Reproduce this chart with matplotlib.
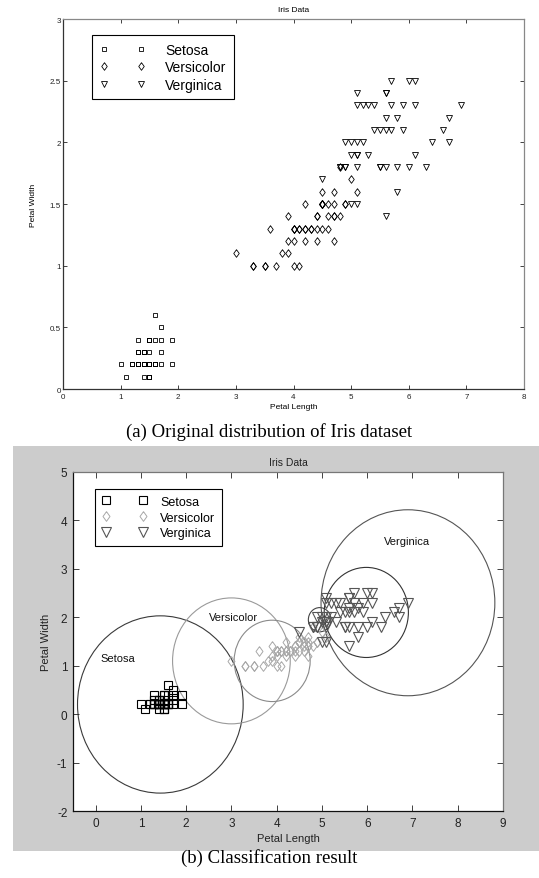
import numpy as np
import matplotlib
matplotlib.use("Agg")
import matplotlib.pyplot as plt
from matplotlib.patches import Rectangle, Circle
from matplotlib.ticker import FormatStrFormatter

plt.rcParams['font.family'] = ['Liberation Sans', 'DejaVu Sans']
plt.rcParams['axes.unicode_minus'] = False

# Iris petal measurements (length, width) per class
setosa_len = [1.4, 1.4, 1.3, 1.5, 1.4, 1.7, 1.4, 1.5, 1.4, 1.5, 1.5, 1.6, 1.4, 1.1, 1.2, 1.5, 1.3,
              1.4, 1.7, 1.5, 1.7, 1.5, 1.0, 1.7, 1.9, 1.6, 1.6, 1.5, 1.4, 1.6, 1.6, 1.5, 1.5, 1.4,
              1.5, 1.2, 1.3, 1.5, 1.3, 1.5, 1.3, 1.3, 1.3, 1.6, 1.9, 1.4, 1.6, 1.4, 1.5, 1.4]
setosa_wid = [0.2, 0.2, 0.2, 0.2, 0.2, 0.4, 0.3, 0.2, 0.2, 0.1, 0.2, 0.2, 0.1, 0.1, 0.2, 0.4, 0.4,
              0.3, 0.3, 0.3, 0.2, 0.4, 0.2, 0.5, 0.2, 0.2, 0.4, 0.2, 0.2, 0.2, 0.2, 0.4, 0.1, 0.2,
              0.2, 0.2, 0.2, 0.1, 0.2, 0.2, 0.3, 0.3, 0.2, 0.6, 0.4, 0.3, 0.2, 0.2, 0.2, 0.2]
versi_len = [4.7, 4.5, 4.9, 4.0, 4.6, 4.5, 4.7, 3.3, 4.6, 3.9, 3.5, 4.2, 4.0, 4.7, 3.6, 4.4, 4.5,
             4.1, 4.5, 3.9, 4.8, 4.0, 4.9, 4.7, 4.3, 4.4, 4.8, 5.0, 4.5, 3.5, 3.8, 3.7, 3.9, 5.1,
             4.5, 4.5, 4.7, 4.4, 4.1, 4.0, 4.4, 4.6, 4.0, 3.3, 4.2, 4.2, 4.2, 4.3, 3.0, 4.1]
versi_wid = [1.4, 1.5, 1.5, 1.3, 1.5, 1.3, 1.6, 1.0, 1.3, 1.4, 1.0, 1.5, 1.0, 1.4, 1.3, 1.4, 1.5,
             1.0, 1.5, 1.1, 1.8, 1.3, 1.5, 1.2, 1.3, 1.4, 1.4, 1.7, 1.5, 1.0, 1.1, 1.0, 1.2, 1.6,
             1.5, 1.6, 1.5, 1.3, 1.3, 1.3, 1.2, 1.4, 1.2, 1.0, 1.3, 1.2, 1.3, 1.3, 1.1, 1.3]
vergi_len = [6.0, 5.1, 5.9, 5.6, 5.8, 6.6, 4.5, 6.3, 5.8, 6.1, 5.1, 5.3, 5.5, 5.0, 5.1, 5.3, 5.5,
             6.7, 6.9, 5.0, 5.7, 4.9, 6.7, 4.9, 5.7, 6.0, 4.8, 4.9, 5.6, 5.8, 6.1, 6.4, 5.6, 5.1,
             5.6, 6.1, 5.6, 5.5, 4.8, 5.4, 5.6, 5.1, 5.1, 5.9, 5.7, 5.2, 5.0, 5.2, 5.4, 5.1]
vergi_wid = [2.5, 1.9, 2.1, 1.8, 2.2, 2.1, 1.7, 1.8, 1.8, 2.5, 2.0, 1.9, 2.1, 2.0, 2.4, 2.3, 1.8,
             2.2, 2.3, 1.5, 2.3, 2.0, 2.0, 1.8, 2.1, 1.8, 1.8, 1.8, 2.1, 1.6, 1.9, 2.0, 2.2, 1.5,
             1.4, 2.3, 2.4, 1.8, 1.8, 2.1, 2.4, 2.3, 1.9, 2.3, 2.5, 2.3, 1.9, 2.0, 2.3, 1.8]

class_names = ["Setosa", "Versicolor", "Verginica"]

# cluster circles found by the classifier: centre x, centre y, radius
circle_x = [1.43, 3.0, 3.9, 4.95, 5.98, 6.9]
circle_y = [0.2, 1.1, 1.1, 1.95, 2.1, 2.3]
circle_r = [1.83, 1.3, 0.84, 0.25, 0.93, 1.92]
circle_colors = ["#3a3a3a", "#9a9a9a", "#8a8a8a", "#444444", "#333333", "#555555"]

# class name labels placed inside the big circles
label_x = [0.1, 2.5, 6.37]
label_y = [1.15, 2.0, 3.58]

# MATLAB-like diamond, a bit narrower than it is tall
diamond = [(0, 1), (0.72, 0), (0, -1), (-0.72, 0), (0, 1)]

fig = plt.figure(figsize=(5.39, 8.79), dpi=100)

# grey figure background of the lower plot
fig.patches.append(Rectangle((0.0241, 0.0307), 0.9759, 0.4608, transform=fig.transFigure,
                             facecolor="#cccccc", edgecolor="none", zorder=-5))


def style_axes(ax, light, dark):
    for side in ["top", "right"]:
        ax.spines[side].set_color(light)
    for side in ["left", "bottom"]:
        ax.spines[side].set_color(dark)
    for sp in ax.spines.values():
        sp.set_linewidth(0.9)


# ---- (a) original distribution ----
ax1 = fig.add_axes([0.1169, 0.5563, 0.8553, 0.4209])
h1, = ax1.plot(setosa_len, setosa_wid, "s", ms=3.2, mfc="none", mec="black", mew=0.6)
h2, = ax1.plot(versi_len, versi_wid, marker=diamond, ls="none", ms=5.5, mfc="none",
               mec="black", mew=0.6)
h3, = ax1.plot(vergi_len, vergi_wid, "v", ms=4.5, mfc="none", mec="black", mew=0.6)
ax1.set_xlim(0, 8)
ax1.set_ylim(0, 3)
ax1.set_xticks(np.arange(0, 9, 1))
ax1.set_yticks(np.arange(0, 3.01, 0.5))
ax1.yaxis.set_major_formatter(FormatStrFormatter("%g"))
ax1.tick_params(direction="in", top=True, right=True, length=3, width=0.6,
                labelsize=5.8, colors="#222222")
ax1.tick_params(axis="y", pad=1.5)
ax1.tick_params(axis="x", pad=3)
ax1.set_title("Iris Data", fontsize=6, pad=5.5)
ax1.set_xlabel("Petal Length", fontsize=6, labelpad=2)
ax1.set_ylabel("Petal Width", fontsize=6, labelpad=9)
style_axes(ax1, "#888888", "#333333")
leg1 = ax1.legend([h1, h2, h3], class_names, loc="upper left", bbox_to_anchor=(0.063, 0.957),
                  borderaxespad=0, numpoints=2, handlelength=3.3, handletextpad=1.4,
                  borderpad=0.55, labelspacing=0.26, fontsize=10, fancybox=False,
                  framealpha=1)
leg1.get_frame().set_edgecolor("black")
leg1.get_frame().set_linewidth(0.8)

fig.text(0.5, 1 - 432 / 879, "(a) Original distribution of Iris dataset",
         family=["Liberation Serif", "DejaVu Serif"], fontsize=13.5, ha="center", va="center")

# ---- (b) classification result ----
ax2 = fig.add_axes([0.1354, 0.0762, 0.7978, 0.3857])
ax2.set_facecolor("white")
for cx, cy, r, col in zip(circle_x, circle_y, circle_r, circle_colors):
    ax2.add_patch(Circle((cx, cy), r, fill=False, edgecolor=col, linewidth=0.8))
g1, = ax2.plot(setosa_len, setosa_wid, "s", ms=5.8, mfc="none", mec="black", mew=0.8)
g2, = ax2.plot(versi_len, versi_wid, marker=diamond, ls="none", ms=7, mfc="none",
               mec="#a8a8a8", mew=0.7)
g3, = ax2.plot(vergi_len, vergi_wid, "v", ms=7, mfc="none", mec="#555555", mew=0.8)
for name, lx, ly in zip(class_names, label_x, label_y):
    ax2.text(lx, ly, name, fontsize=8, va="center", ha="left", color="#111111")
ax2.set_xlim(-0.5, 9)
ax2.set_ylim(-2, 5)
ax2.set_xticks(np.arange(0, 10, 1))
ax2.set_yticks(np.arange(-2, 6, 1))
ax2.tick_params(direction="in", top=True, right=True, length=4, width=0.6,
                labelsize=8.5, colors="#222222", pad=4)
ax2.set_title("Iris Data", fontsize=7.5, pad=5, color="#222222")
ax2.set_xlabel("Petal Length", fontsize=8, labelpad=3, color="#222222")
ax2.set_ylabel("Petal Width", fontsize=8, labelpad=4, color="#222222")
style_axes(ax2, "#777777", "#111111")
leg2 = ax2.legend([g1, g2, g3], class_names, loc="upper left", bbox_to_anchor=(0.051, 0.950),
                  borderaxespad=0, numpoints=2, handlelength=3.56, handletextpad=1.1,
                  borderpad=0.55, labelspacing=0.3, fontsize=9, fancybox=False,
                  framealpha=1)
leg2.get_frame().set_edgecolor("black")
leg2.get_frame().set_linewidth(0.8)

fig.text(0.5, 1 - 858 / 879, "(b) Classification result",
         family=["Liberation Serif", "DejaVu Serif"], fontsize=13.5, ha="center", va="center")

fig.savefig("out.png", dpi=100)
